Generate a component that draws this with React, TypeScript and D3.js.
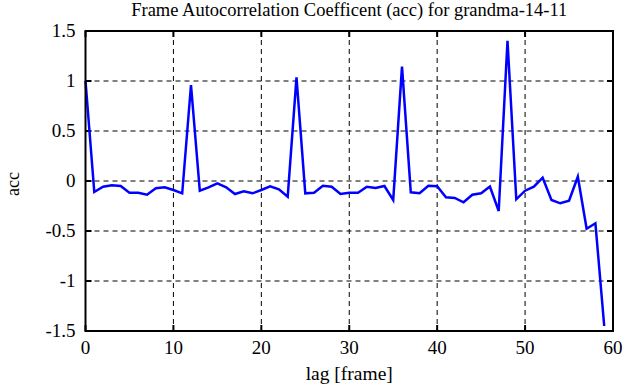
import React, { useEffect, useRef } from "react";
import * as d3 from "d3";

// autocorrelation per lag
const lags = d3.range(0, 60);
const acc = [
  1.0, -0.11, -0.057, -0.043, -0.05, -0.117, -0.117, -0.137, -0.073, -0.063,
  -0.09, -0.123, 0.96, -0.097, -0.063, -0.023, -0.063, -0.13, -0.103, -0.123,
  -0.09, -0.053, -0.083, -0.157, 1.037, -0.123, -0.117, -0.047, -0.057, -0.13,
  -0.117, -0.117, -0.057, -0.07, -0.05, -0.19, 1.143, -0.113, -0.123, -0.047,
  -0.053, -0.163, -0.17, -0.213, -0.137, -0.123, -0.055, -0.3, 1.403, -0.183,
  -0.097, -0.057, 0.033, -0.19, -0.223, -0.197, 0.043, -0.477, -0.423, -1.45,
];
const xTicks = [0, 10, 20, 30, 40, 50, 60];
const yTicks = [-1.5, -1, -0.5, 0, 0.5, 1, 1.5];

const FONT = "Liberation Serif, DejaVu Serif, serif";

const AccChart = () => {
  const chartRef = useRef<SVGSVGElement>(null);

  const drawChart = () => {
    d3.select(chartRef.current).selectAll("*").remove();

    const width = 641;
    const height = 387;
    const margin = { top: 31, right: 28, bottom: 56, left: 85.5 };

    const svg = d3.select(chartRef.current);

    const xScale = d3
      .scaleLinear()
      .domain([0, 60])
      .range([margin.left, width - margin.right]);
    const yScale = d3
      .scaleLinear()
      .domain([-1.5, 1.5])
      .range([height - margin.bottom, margin.top]);

    const x0 = xScale(0), x1 = xScale(60);
    const y0 = yScale(-1.5), y1 = yScale(1.5);

    svg.append("rect").attr("width", width).attr("height", height).attr("fill", "#fff");

    // dashed grid
    const grid = svg.append("g").attr("stroke", "#000").attr("stroke-width", 1).attr("stroke-dasharray", "5,4");
    xTicks.slice(1, -1).forEach((t) => {
      grid.append("line").attr("x1", xScale(t)).attr("x2", xScale(t)).attr("y1", y1).attr("y2", y0);
    });
    yTicks.slice(1, -1).forEach((t) => {
      grid.append("line").attr("x1", x0).attr("x2", x1).attr("y1", yScale(t)).attr("y2", yScale(t));
    });

    // inward ticks on all sides
    const ticks = svg.append("g").attr("stroke", "#000").attr("stroke-width", 2);
    xTicks.forEach((t) => {
      ticks.append("line").attr("x1", xScale(t)).attr("x2", xScale(t)).attr("y1", y0).attr("y2", y0 - 6);
      ticks.append("line").attr("x1", xScale(t)).attr("x2", xScale(t)).attr("y1", y1).attr("y2", y1 + 6);
    });
    yTicks.forEach((t) => {
      ticks.append("line").attr("x1", x0).attr("x2", x0 + 6).attr("y1", yScale(t)).attr("y2", yScale(t));
      ticks.append("line").attr("x1", x1).attr("x2", x1 - 6).attr("y1", yScale(t)).attr("y2", yScale(t));
    });

    // the line
    const line = d3
      .line<number>()
      .x((d, i) => xScale(lags[i]))
      .y((d) => yScale(d));

    svg
      .append("path")
      .datum(acc)
      .attr("d", line)
      .attr("fill", "none")
      .attr("stroke", "#0000ff")
      .attr("stroke-width", 2.5)
      .attr("stroke-linejoin", "miter");

    // frame
    svg
      .append("rect")
      .attr("x", x0)
      .attr("y", y1)
      .attr("width", x1 - x0)
      .attr("height", y0 - y1)
      .attr("fill", "none")
      .attr("stroke", "#000")
      .attr("stroke-width", 2);

    const labels = svg.append("g").attr("font-family", FONT).attr("font-size", 19).attr("fill", "#000");

    xTicks.forEach((t) => {
      labels.append("text").attr("x", xScale(t)).attr("y", y0 + 23).attr("text-anchor", "middle").text(String(t));
    });
    yTicks.forEach((t) => {
      labels.append("text").attr("x", x0 - 10).attr("y", yScale(t) + 6).attr("text-anchor", "end").text(String(t));
    });

    labels
      .append("text")
      .attr("x", (x0 + x1) / 2)
      .attr("y", 16)
      .attr("text-anchor", "middle")
      .attr("font-size", 18.5)
      .text("Frame Autocorrelation Coefficent (acc) for grandma-14-11");

    labels
      .append("text")
      .attr("x", (x0 + x1) / 2)
      .attr("y", 380)
      .attr("text-anchor", "middle")
      .attr("font-size", 19.5)
      .text("lag [frame]");

    labels
      .append("text")
      .attr("transform", `translate(18.5,${yScale(0) + 3}) rotate(-90)`)
      .attr("text-anchor", "middle")
      .attr("font-size", 18)
      .text("acc");
  };

  useEffect(() => {
    drawChart();
  }, []);

  return <svg ref={chartRef} width={641} height={387} style={{ display: "block" }}></svg>;
};

export default function App() {
  return (
    <div style={{ position: "absolute", left: 0, top: 0 }}>
      <AccChart />
    </div>
  );
}
